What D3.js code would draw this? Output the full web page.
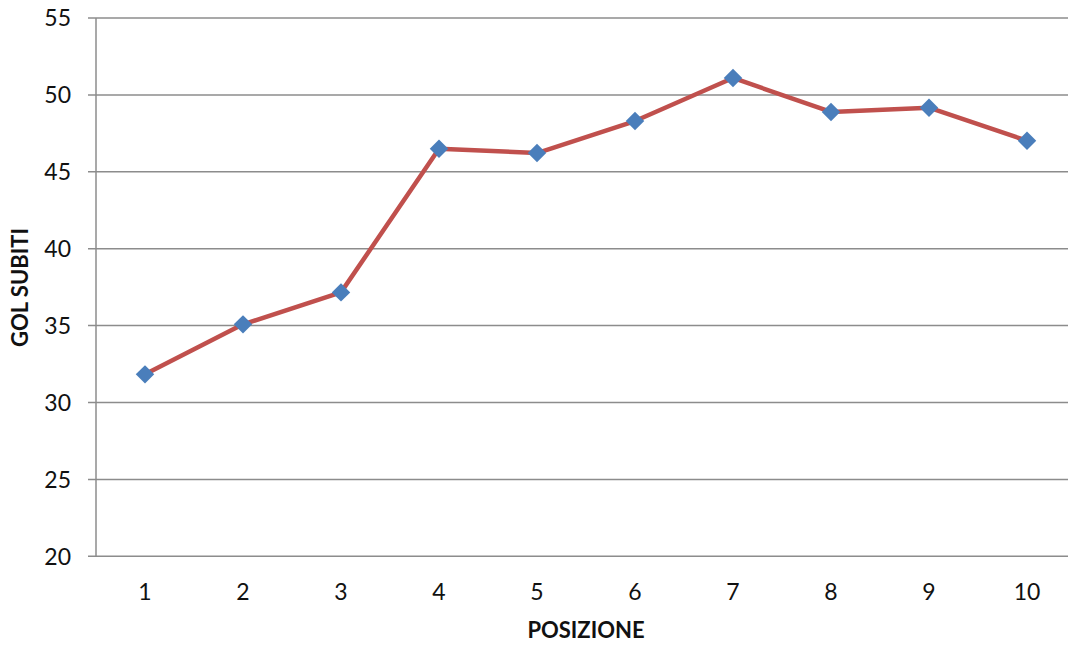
<!DOCTYPE html>
<html><head><meta charset="utf-8">
<script src="https://cdn.jsdelivr.net/npm/d3@7"></script>
<style>body{margin:0;background:#fff;} text{font-family:Lato,"Open Sans",sans-serif;}</style>
</head><body>
<svg id="c" width="1068" height="645"></svg>
<script>
const categories = ["1","2","3","4","5","6","7","8","9","10"];
const values = [31.83, 35.08, 37.16, 46.5, 46.22, 48.3, 51.1, 48.89, 49.17, 47.02];
const yTicks = [20,25,30,35,40,45,50,55];
const xTitle = "POSIZIONE";
const yTitle = "GOL SUBITI";

const svg = d3.select("#c");
const L = 96, R = 1076, T = 18, B = 556.3;
const x = d3.scaleBand().domain(categories).range([L, R]);
const y = d3.scaleLinear().domain([20,55]).range([B, T]);

svg.append("g").selectAll("line").data(yTicks).join("line")
  .attr("x1", L-8).attr("x2", R).attr("y1", d=>y(d)).attr("y2", d=>y(d))
  .attr("stroke", "#8c8c8c").attr("stroke-width", 1.5);
svg.append("line").attr("x1", L).attr("x2", L).attr("y1", T).attr("y2", B)
  .attr("stroke", "#8c8c8c").attr("stroke-width", 1.5);

svg.append("g").selectAll("text").data(yTicks).join("text")
  .attr("x", 71).attr("y", d=>y(d)).attr("dy", "0.36em")
  .attr("text-anchor", "end").attr("font-size", 23).attr("fill", "#111")
  .text(d=>d);
svg.append("g").selectAll("text").data(categories).join("text")
  .attr("x", d=>x(d)+x.bandwidth()/2).attr("y", 592).attr("dy", "0.36em")
  .attr("text-anchor", "middle").attr("font-size", 23).attr("fill", "#111")
  .text(d=>d);

svg.append("text").attr("x", 586).attr("y", 630).attr("dy","0.36em")
  .attr("text-anchor","middle").attr("font-size",22).attr("font-weight","bold").attr("fill","#111")
  .text(xTitle);
svg.append("text").attr("transform","translate(20,287.5) rotate(-90)").attr("dy","0.36em")
  .attr("text-anchor","middle").attr("font-size",22).attr("font-weight","bold").attr("fill","#111")
  .text(yTitle);

const cx = (d,i)=>x(categories[i])+x.bandwidth()/2;
svg.append("path").datum(values)
  .attr("d", d3.line().x(cx).y(d=>y(d)))
  .attr("fill","none").attr("stroke","#C0504D").attr("stroke-width",4.5).attr("stroke-linejoin","round");

svg.append("g").selectAll("path").data(values).join("path")
  .attr("d", d3.symbol().type(d3.symbolSquare).size(170))
  .attr("transform", (d,i)=>`translate(${cx(d,i)},${y(d)}) rotate(45)`)
  .attr("fill","#4A7EBB");
</script>
</body></html>
